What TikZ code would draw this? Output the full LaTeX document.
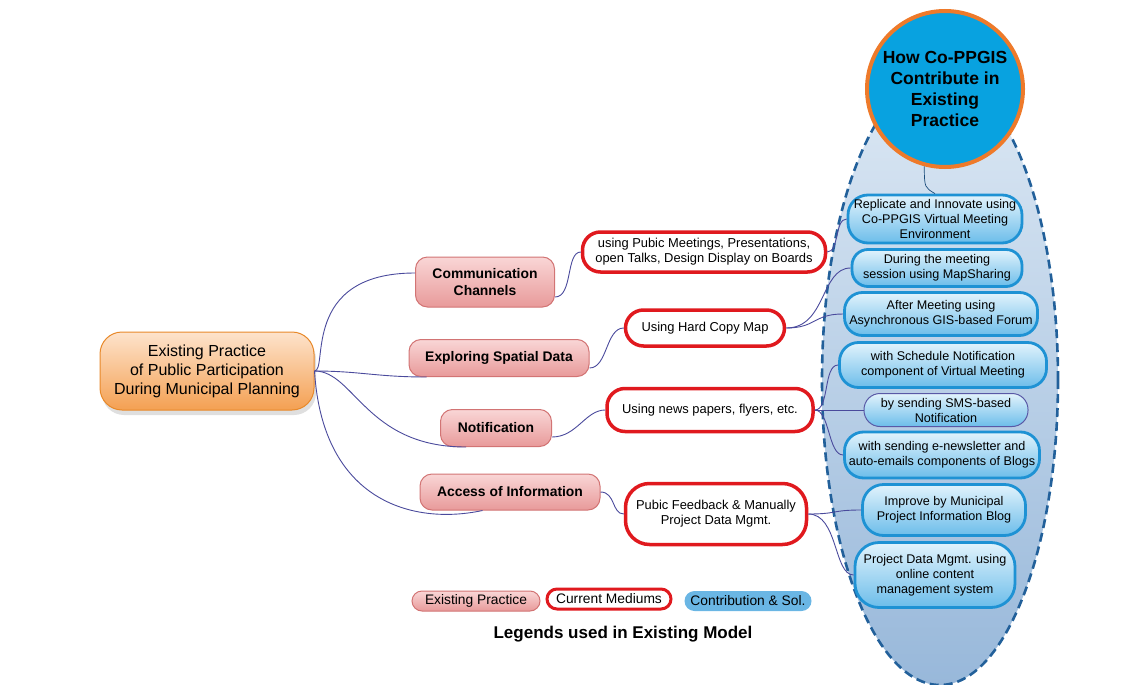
\documentclass[tikz,border=0pt]{standalone}
\usepackage{fontspec}
\setmainfont{Liberation Sans}
\usetikzlibrary{calc,shadows}
\definecolor{linkc}{HTML}{4A4A9C}
\definecolor{ellT}{HTML}{DCE8F4}
\definecolor{ellB}{HTML}{98B8DA}
\definecolor{dashc}{HTML}{22609A}
\definecolor{circF}{HTML}{08A2E0}
\definecolor{circB}{HTML}{EE7A2A}
\definecolor{blueT}{HTML}{E2F3FC}
\definecolor{blueB}{HTML}{6CBDEA}
\definecolor{bluebd}{HTML}{1E92D4}
\definecolor{pinkT}{HTML}{F9D6D6}
\definecolor{pinkB}{HTML}{E89A9A}
\definecolor{pinkbd}{HTML}{D27474}
\definecolor{redbd}{HTML}{E0191E}
\definecolor{orT}{HTML}{FDE3CC}
\definecolor{orB}{HTML}{F4A052}
\definecolor{orbd}{HTML}{E8892A}
\definecolor{legB}{HTML}{6AB6E4}
\begin{document}
\begin{tikzpicture}[x=1pt,y=-1pt,
  conn/.style={draw=linkc, line width=0.9pt},
  bluebox/.style={rounded corners=16pt, draw=bluebd, line width=2.8pt, top color=blueT, bottom color=blueB, align=center, inner sep=1pt, font=\fontsize{12.6}{15}\selectfont},
  pinkbox/.style={rounded corners=12pt, draw=pinkbd, line width=1pt, top color=pinkT, bottom color=pinkB, align=center, inner sep=1pt, font=\bfseries\fontsize{13.9}{17}\selectfont},
  medbox/.style={rounded corners=18pt, draw=redbd, line width=3.5pt, fill=white, align=center, inner sep=1pt, font=\fontsize{12.9}{15}\selectfont},
  legbox/.style={rounded corners=10pt, align=center, inner sep=1pt, minimum height=20pt, font=\fontsize{13.8}{15}\selectfont}
]
\useasboundingbox (0,0) rectangle (1143,685);
% background ellipse
\shade[top color=ellT, bottom color=ellB] (940,380) ellipse [x radius=118, y radius=305];
\draw[dashc, line width=2.6pt, dash pattern=on 9pt off 5pt] (940,380) ellipse [x radius=118, y radius=305];

% circle
\node[circle, minimum size=156pt, fill=circF, draw=circB, line width=4pt, align=center,
      font=\bfseries\fontsize{17.5}{20.7}\selectfont] (c) at (945,89) {How Co-PPGIS\\Contribute in\\Existing\\Practice};

% root
\node[rounded corners=22pt, draw=orbd, line width=1pt, top color=orT, bottom color=orB,
      minimum width=214pt, minimum height=78pt, align=center, inner sep=1pt,
      drop shadow={opacity=0.25, shadow xshift=2pt, shadow yshift=-5pt},
      font=\fontsize{16}{19}\selectfont] (root) at (207,371)
      {Existing Practice\\of Public Participation\\During Municipal Planning};

% existing practice
\node[pinkbox, minimum width=139pt, minimum height=50pt] (e1) at (485,282) {Communication\\Channels};
\node[pinkbox, minimum width=180pt, minimum height=37pt] (e2) at (499,358) {Exploring Spatial Data};
\node[pinkbox, minimum width=111pt, minimum height=37pt] (e3) at (496,428) {Notification};
\node[pinkbox, minimum width=180pt, minimum height=36pt] (e4) at (510,492) {Access of Information};

% current mediums
\node[medbox, minimum width=243pt, minimum height=40pt] (m1) at (704,252) {using Pubic Meetings, Presentations,\\open Talks, Design Display on Boards};
\node[medbox, minimum width=159pt, minimum height=36pt] (m2) at (705,328) {Using Hard Copy Map};
\node[medbox, minimum width=206pt, minimum height=43pt] (m3) at (710,410) {Using news papers, flyers, etc.};
\node[medbox, rounded corners=24pt, minimum width=181pt, minimum height=61pt] (m4) at (716,514) {Pubic Feedback \& Manually\\Project Data Mgmt.};

% contributions
\node[bluebox, rounded corners=20pt, minimum width=174pt, minimum height=48pt] (b1) at (935,219) {Replicate and Innovate using\\Co-PPGIS Virtual Meeting\\Environment};
\node[bluebox, minimum width=170pt, minimum height=37pt] (b2) at (937,268) {During the meeting\\session using MapSharing};
\node[bluebox, rounded corners=18pt, minimum width=193pt, minimum height=43pt] (b3) at (941,314) {After Meeting using\\Asynchronous GIS-based Forum};
\node[bluebox, rounded corners=19pt, minimum width=207pt, minimum height=45pt] (b4) at (943,365) {with Schedule Notification\\component of Virtual Meeting};
\node[bluebox, draw=gray!70!blue, line width=1pt, minimum width=164pt, minimum height=33pt] (b5) at (946,410) {by sending SMS-based\\Notification};
\node[bluebox, rounded corners=19pt, minimum width=195pt, minimum height=46pt] (b6) at (942,455) {with sending e-newsletter and\\auto-emails components of Blogs};
\node[bluebox, rounded corners=21pt, minimum width=163pt, minimum height=51pt] (b7) at (944,510) {Improve by Municipal\\Project Information Blog};
\node[bluebox, rounded corners=24pt, minimum width=160pt, minimum height=65pt] (b8) at (935,575) {Project Data Mgmt. using\\online content\\management system};

% connectors root -> existing
\draw[conn] (root.east) .. controls +(14,0) and +(-115,0) .. ($(e1.west)+(0,-9)$);
\draw[conn] (root.east) .. controls +(45,0) and +(-50,0) .. ($(e2.south west)+(18,0)$);
\draw[conn] (root.east) .. controls +(40,0) and +(-100,0) .. ($(e3.south west)+(26,0)$);
\draw[conn] (root.east) .. controls +(8,130) and +(-70,15) .. ($(e4.south west)+(63,0)$);

% existing -> mediums
\draw[conn] ($(e1.east)+(0,15)$) .. controls +(18,0) and +(-15,0) .. (m1.west);
\draw[conn] ($(e2.east)+(0,10)$) .. controls +(18,0) and +(-18,0) .. (m2.west);
\draw[conn] ($(e3.east)+(0,9)$) .. controls +(25,0) and +(-20,0) .. (m3.west);
\draw[conn] (e4.east) .. controls +(15,0) and +(-12,0) .. (m4.west);

% mediums -> contributions
\draw[conn] (m1.east) .. controls +(12,0) and +(-12,0) .. (b1.west);
\draw[conn] (m2.east) .. controls +(40,0) and +(-30,0) .. (b2.west);
\draw[conn] (m2.east) .. controls +(30,0) and +(-30,0) .. (b3.west);
\draw[conn] (m3.east) .. controls +(15,0) and +(-15,0) .. (b4.west);
\draw[conn] (m3.east) -- (b5.west);
\draw[conn] (m3.east) .. controls +(15,0) and +(-15,0) .. (b6.west);
\draw[conn] (m4.east) .. controls +(30,0) and +(-30,0) .. (b7.west);
\draw[conn] (m4.east) .. controls +(30,0) and +(-20,0) .. (b8.west);

% circle -> first contribution
\draw[conn, draw=dashc!80!black, line width=0.7pt] (c.255) .. controls +(0,22) and +(-10,-6) .. (b1.north);

% legend
\node[legbox, draw=pinkbd, line width=1pt, top color=pinkT, bottom color=pinkB, minimum width=128pt] (l1) at (476,601) {Existing Practice};
\node[legbox, draw=redbd, line width=3pt, fill=white, minimum width=124pt] (l2) at (609,599) {Current Mediums};
\node[legbox, fill=legB, minimum width=127pt] (l3) at (748,601) {Contribution \& Sol.};
\node[font=\bfseries\fontsize{17}{19}\selectfont] (lt) at (623,634) {Legends used in Existing Model};
\end{tikzpicture}
\end{document}
